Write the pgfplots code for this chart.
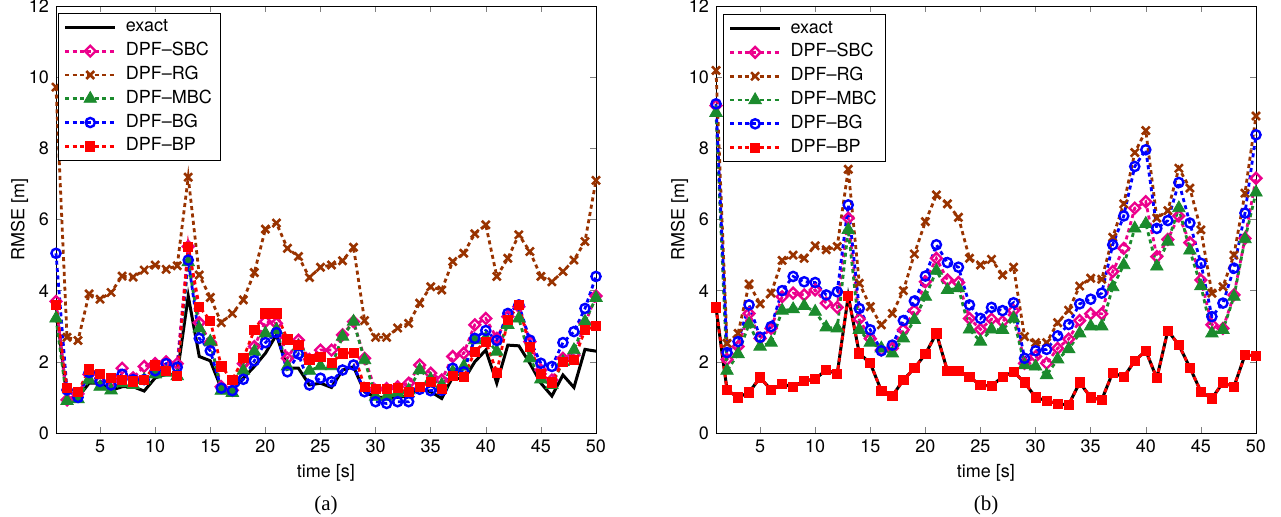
\documentclass[border=0pt]{standalone}
\usepackage{pgfplots}
\pgfplotsset{compat=1.18}
\usepackage{pgfplotstable}
\usepackage{fontspec}
\setmainfont{TeX Gyre Heros}
\newfontfamily\capfont{Liberation Serif}

\definecolor{rgbrown}{RGB}{153,51,0}
\definecolor{mbcgreen}{RGB}{27,139,45}

% left panel (a)
\pgfplotstableread{
t exact sbc rg mbc bg bp
1 3.60 3.70 9.72 3.22 5.05 3.60
2 0.95 0.93 2.69 0.90 1.21 1.27
3 1.00 1.10 2.60 0.95 1.00 1.15
4 1.40 1.65 3.91 1.50 1.70 1.79
5 1.40 1.45 3.76 1.30 1.45 1.65
6 1.20 1.45 3.95 1.20 1.35 1.55
7 1.30 1.82 4.41 1.40 1.65 1.50
8 1.30 1.55 4.38 1.35 1.50 1.45
9 1.18 1.87 4.58 1.50 1.50 1.50
10 1.55 1.95 4.72 1.65 1.75 1.90
11 1.65 2.00 4.60 1.70 1.95 1.75
12 1.65 1.95 4.70 1.60 1.85 1.60
13 3.85 5.24 7.19 4.80 4.86 5.24
14 2.15 3.10 4.44 2.94 2.66 3.55
15 2.03 2.55 3.81 2.57 2.31 3.16
16 1.25 1.30 3.10 1.19 1.26 1.87
17 1.20 1.20 3.36 1.13 1.19 1.49
18 1.54 1.95 3.74 1.75 1.51 2.10
19 1.87 2.43 4.51 2.29 2.03 2.90
20 2.24 3.13 5.73 2.80 2.54 3.36
21 2.76 3.08 5.90 2.90 2.82 3.36
22 1.82 2.10 5.19 1.87 1.72 2.63
23 1.82 2.61 4.96 2.43 2.22 2.47
24 1.35 2.07 4.37 1.75 1.35 2.07
25 1.40 2.33 4.66 1.88 1.54 2.13
26 1.28 2.33 4.72 1.88 1.44 1.98
27 1.77 2.76 4.84 2.71 1.77 2.24
28 1.86 3.13 5.22 3.13 1.91 2.26
29 1.16 2.10 3.16 2.05 1.16 1.30
30 1.00 1.20 2.69 1.02 0.88 1.23
31 1.00 1.25 2.69 1.02 0.83 1.23
32 1.00 1.30 2.95 1.12 0.88 1.26
33 1.05 1.40 3.08 1.20 0.88 1.16
34 1.26 1.91 3.65 1.77 1.23 1.30
35 1.16 1.68 4.11 1.51 1.19 1.44
36 0.97 1.49 4.02 1.35 1.20 1.23
37 1.58 2.15 4.82 1.72 1.82 1.60
38 1.49 2.24 5.05 1.87 1.72 1.57
39 2.00 3.04 5.60 2.61 2.66 2.29
40 2.33 3.22 5.85 2.66 2.88 2.57
41 1.40 2.66 4.40 2.29 2.60 1.70
42 2.47 3.27 4.91 3.04 3.36 3.18
43 2.45 3.55 5.57 3.22 3.60 3.60
44 1.96 2.57 5.10 2.10 2.61 2.41
45 1.40 1.77 4.40 1.51 1.96 1.66
46 1.04 1.49 4.25 1.35 1.87 1.42
47 1.63 2.10 4.54 2.00 2.54 2.00
48 1.28 2.19 4.86 2.33 2.85 2.05
49 2.35 3.08 5.38 3.13 3.50 2.90
50 2.30 3.85 7.10 3.80 4.40 3.00
}\tableA

% right panel (b)
\pgfplotstableread{
t exact sbc rg mbc bg bp
1 3.53 9.20 10.19 9.00 9.25 3.53
2 1.21 2.07 2.52 1.75 2.26 1.21
3 1.00 2.43 2.80 2.22 2.57 1.00
4 1.14 3.36 4.19 3.06 3.60 1.14
5 1.56 2.66 3.63 2.43 2.69 1.56
6 1.21 2.94 3.93 2.54 2.99 1.21
7 1.37 3.83 4.85 3.44 4.00 1.37
8 1.30 3.93 5.00 3.48 4.40 1.30
9 1.46 3.88 4.91 3.57 4.25 1.46
10 1.52 4.02 5.26 3.41 4.23 1.52
11 1.77 3.65 5.15 2.97 3.88 1.77
12 1.66 3.53 5.24 2.94 3.97 1.66
13 3.85 6.04 7.41 5.71 6.41 3.85
14 2.24 3.20 4.21 2.90 3.50 2.24
15 1.96 2.65 3.55 2.54 2.90 1.96
16 1.19 2.33 3.04 2.38 2.31 1.19
17 1.04 2.38 3.36 2.24 2.47 1.04
18 1.49 2.90 4.00 2.66 3.16 1.49
19 1.82 3.44 5.03 3.18 3.71 1.82
20 2.22 4.25 5.94 3.83 4.41 2.22
21 2.80 4.91 6.69 4.56 5.29 2.80
22 1.75 4.30 6.44 4.02 4.79 1.75
23 1.75 4.23 6.06 4.07 4.66 1.75
24 1.57 3.22 4.91 2.91 3.60 1.57
25 1.35 2.91 4.72 2.57 3.22 1.35
26 1.32 3.20 4.88 2.91 3.53 1.32
27 1.58 3.13 4.44 2.90 3.44 1.58
28 1.72 3.44 4.66 3.22 3.66 1.72
29 1.42 1.96 2.71 1.91 2.10 1.42
30 1.00 2.15 2.54 1.87 2.31 1.00
31 0.91 1.96 2.54 1.63 2.35 0.91
32 0.82 2.38 3.10 2.07 2.73 0.82
33 0.79 2.64 3.45 2.36 3.05 0.79
34 1.42 3.16 4.13 2.80 3.63 1.42
35 1.00 3.35 4.35 3.00 3.76 1.00
36 0.93 3.35 4.32 3.00 3.93 0.93
37 1.70 4.54 5.50 4.10 5.29 1.70
38 1.57 5.19 6.44 4.72 6.10 1.57
39 2.03 6.32 7.88 5.75 7.49 2.03
40 2.31 6.50 8.50 5.88 7.96 2.31
41 1.54 4.96 6.04 4.68 5.75 1.54
42 2.88 5.44 6.25 5.38 5.97 2.88
43 2.47 6.10 7.44 6.32 7.04 2.47
44 1.84 5.35 6.88 5.13 5.90 1.84
45 1.16 4.30 5.71 4.13 4.77 1.16
46 0.97 3.04 3.93 2.80 3.27 0.97
47 1.42 2.94 4.11 2.90 3.65 1.42
48 1.30 3.88 5.00 3.83 4.63 1.30
49 2.19 5.47 6.74 5.45 6.18 2.19
50 2.17 7.16 8.91 6.76 8.38 2.17
}\tableB

\pgfplotsset{
  rmse/.style={
    width=270pt, height=213.5pt, scale only axis,
    xmin=1, xmax=50, ymin=0, ymax=12,
    xtick={5,10,...,50}, ytick={0,2,...,12},
    tick align=inside, major tick length=3pt,
    tick label style={font=\fontsize{9}{10.8}\selectfont},
    label style={font=\fontsize{9}{10.8}\selectfont},
    /pgf/number format/assume math mode=true,
    xlabel={time [s]}, ylabel={RMSE [m]},
    xlabel style={yshift=1pt},
    ylabel shift=-6.5pt,
    clip=false,
    legend cell align=left,
    legend style={anchor=north west, draw=black, line width=0.6pt, fill=white,
      font=\fontsize{9}{10.8}\selectfont, inner xsep=2.5pt, inner ysep=1pt,
      row sep=0pt,
      /tikz/every odd column/.style={column sep=2.5pt},
      nodes={inner xsep=2pt, inner ysep=1.2pt, text height=7pt, text depth=2.5pt}},
    legend image code/.code={
      \draw[mark repeat=2, mark phase=2] plot coordinates {(0pt,0pt) (12.5pt,0pt) (25pt,0pt)};},
  },
  dots/.style={dash pattern=on 2pt off 1.7pt, line width=1.4pt},
  sexact/.style={black, solid, line width=1.5pt, mark=none},
  ssbc/.style={magenta, dots, mark=square, mark size=1.9pt, mark options={solid, rotate=45, line width=1.2pt}},
  srg/.style={rgbrown, dots, mark=x, mark size=2.8pt, mark options={solid, line width=1.3pt}},
  smbc/.style={mbcgreen, dots, mark=triangle*, mark size=3.6pt, mark options={solid, line width=0.4pt}},
  sbg/.style={blue, dots, mark=o, mark size=2.3pt, mark options={solid, line width=1.2pt}},
  sbp/.style={red, dots, mark=square*, mark size=2.3pt, mark options={solid, line width=0.4pt}},
}

\begin{document}
\begin{tikzpicture}
\path[use as bounding box] (-28pt,-41.5pt) rectangle (612.5pt,216.5pt);

\begin{axis}[rmse, at={(0pt,0pt)}, legend style={at={(0.004,0.984)}}]
\addplot[sexact] table[x=t, y=exact] {\tableA};
\addlegendentry{exact}
\addplot[ssbc] table[x=t, y=sbc] {\tableA};
\addlegendentry{DPF--SBC}
\addplot[srg] table[x=t, y=rg] {\tableA};
\addlegendentry{DPF--RG}
\addplot[smbc] table[x=t, y=mbc] {\tableA};
\addlegendentry{DPF--MBC}
\addplot[sbg] table[x=t, y=bg] {\tableA};
\addlegendentry{DPF--BG}
\addplot[sbp] table[x=t, y=bp] {\tableA};
\addlegendentry{DPF--BP}
\node[font=\capfont\fontsize{10.5}{12}\selectfont] at (rel axis cs:0.5,0) [yshift=-36pt] {(a)};
\end{axis}

\begin{axis}[rmse, at={(330pt,0pt)}, legend style={at={(0.013,0.981)}}]
\addplot[sexact] table[x=t, y=exact] {\tableB};
\addlegendentry{exact}
\addplot[ssbc] table[x=t, y=sbc] {\tableB};
\addlegendentry{DPF--SBC}
\addplot[srg] table[x=t, y=rg] {\tableB};
\addlegendentry{DPF--RG}
\addplot[smbc] table[x=t, y=mbc] {\tableB};
\addlegendentry{DPF--MBC}
\addplot[sbg] table[x=t, y=bg] {\tableB};
\addlegendentry{DPF--BG}
\addplot[sbp] table[x=t, y=bp] {\tableB};
\addlegendentry{DPF--BP}
\node[font=\capfont\fontsize{10.5}{12}\selectfont] at (rel axis cs:0.5,0) [yshift=-36pt] {(b)};
\end{axis}
\end{tikzpicture}
\end{document}
